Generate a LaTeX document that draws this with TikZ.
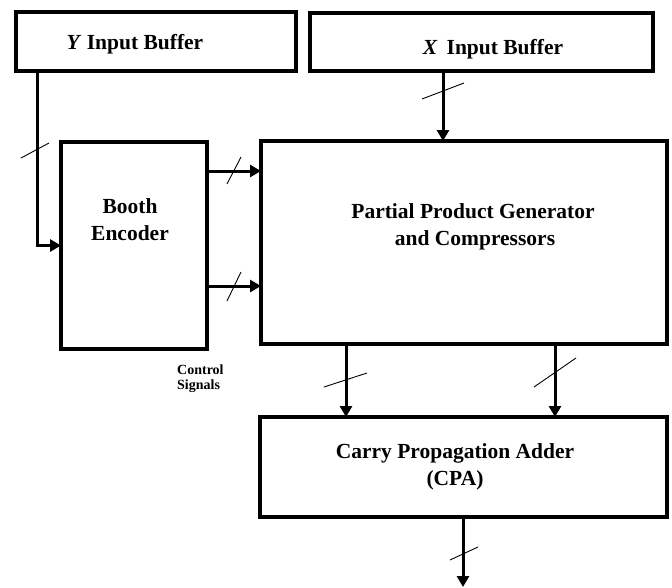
\documentclass[tikz,border=0pt]{standalone}
\usepackage{fontspec}
\setmainfont{Liberation Serif}
\usetikzlibrary{arrows.meta}
\begin{document}
\begin{tikzpicture}[x=1pt,y=-1pt,
  blk/.style={draw, line width=3.4pt, inner sep=0pt, outer sep=0pt},
  lbl/.style={font=\fontsize{21.5}{26}\selectfont\bfseries, inner sep=0pt, anchor=base},
  sml/.style={font=\fontsize{14}{16}\selectfont\bfseries, inner sep=0pt, anchor=base west},
  arr/.style={line width=3pt, -{Triangle[length=11pt,width=12pt]}},
  slash/.style={line width=0.9pt}]
\useasboundingbox (0,0) rectangle (672,587);
% blocks
\node[blk, minimum width=280pt, minimum height=59pt] (ybuf) at (156,41.5) {};
\node[blk, minimum width=343pt, minimum height=58pt] (xbuf) at (481.5,42) {};
\node[blk, minimum width=146pt, minimum height=207pt] (booth) at (134,245.5) {};
\node[blk, minimum width=406pt, minimum height=203pt] (ppg) at (464,242.5) {};
\node[blk, minimum width=407pt, minimum height=100pt] (cpa) at (463.5,467) {};
% labels
\node[lbl] (ytxt) at (135,49) {\textit{Y} Input Buffer};
\node[lbl] (xtxt) at (493,54) {\textit{X}\, Input Buffer};
\node[lbl] (bt1) at (130,213) {Booth};
\node[lbl] (bt2) at (130,240) {Encoder};
\node[lbl] (pt1) at (473,218) {Partial Product Generator};
\node[lbl] (pt2) at (475,245) {and Compressors};
\node[lbl] (ct1) at (455,458) {Carry Propagation Adder};
\node[lbl] (ct2) at (455,485) {(CPA)};
\node[sml] (cs1) at (177,374) {Control};
\node[sml] (cs2) at (177,389) {Signals};
% connectors
\draw[arr] ([xshift=21pt]ybuf.south west) |- (booth.west);
\draw[arr] (booth.east |- 0,171) -- (ppg.west |- 0,171);
\draw[arr] (booth.east |- 0,286) -- (ppg.west |- 0,286);
\draw[arr] (xbuf.south -| 443,0) -- (ppg.north -| 443,0);
\draw[arr] (ppg.south -| 346,0) -- (cpa.north -| 346,0);
\draw[arr] (ppg.south -| 555,0) -- (cpa.north -| 555,0);
\coordinate (out) at (463,587);
\draw[arr] (cpa.south -| 463,0) -- (out);
% bus slashes
\draw[slash] (21,158) -- (49,143);
\draw[slash] (422,99) -- (464,83);
\draw[slash] (227,184) -- (241,157);
\draw[slash] (227,301) -- (241,272);
\draw[slash] (324,387) -- (367,373);
\draw[slash] (534,387) -- (576,358);
\draw[slash] (450,560) -- (478,547);
\end{tikzpicture}
\end{document}
